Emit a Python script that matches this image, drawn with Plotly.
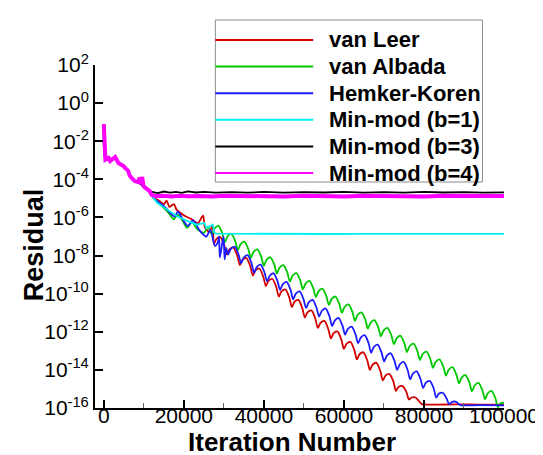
import plotly.graph_objects as go

# ---- data: iteration number and log10(residual) ----
# start-up transient shared by the five solver runs
early_it = [0, 400, 1200, 1600, 2100, 2850, 3650, 4900, 6100, 6500, 7700, 8950, 10400, 11400]
early_lg = [-1.10, -2.97, -2.88, -3.04, -2.95, -2.83, -3.14, -3.30, -3.56, -3.82, -4.09, -4.19, -4.45, -4.61]

red_it = [12500, 14000, 15000, 15700, 16400, 17500, 18200, 19100, 20500, 22000, 23500, 24800, 25300, 26400, 27200,
          27500, 28150, 29125, 30100, 30750, 31400, 32375, 33350, 34000, 34650, 35625, 36600,
          37250, 37900, 38875, 39850, 40500, 41150, 42125, 43100, 43750, 44400, 45375, 46350,
          47000, 47650, 48625, 49600, 50250, 50900, 51875, 52850, 53500, 54150, 55125, 56100,
          56750, 57400, 58375, 59350, 60000, 60650, 61625, 62600, 63250, 63900, 64875, 65850,
          66500, 67150, 68125, 69100, 69750, 70400, 71375, 72350, 73000, 73650, 74625, 75600,
          76250, 76900, 77875, 78800, 79500, 83000, 88000, 94000, 100000]
red_lg = [-4.95, -5.15, -5.30, -5.12, -5.45, -5.30, -5.60, -5.75, -5.95, -6.10, -6.30, -5.90, -6.55, -6.75, -6.41,
          -7.40, -7.13, -7.03, -7.46, -7.95, -7.68, -7.58, -8.01, -8.50, -8.23, -8.13, -8.56,
          -9.05, -8.78, -8.68, -9.11, -9.60, -9.33, -9.23, -9.66, -10.15, -9.88, -9.78, -10.21,
          -10.70, -10.43, -10.33, -10.76, -11.25, -10.98, -10.88, -11.31, -11.80, -11.53, -11.43, -11.86,
          -12.35, -12.08, -11.98, -12.41, -12.90, -12.63, -12.53, -12.96, -13.45, -13.18, -13.08, -13.51,
          -14.00, -13.73, -13.63, -14.06, -14.55, -14.30, -14.22, -14.60, -15.10, -14.90, -14.85, -15.15,
          -15.55, -15.45, -15.45, -15.65, -15.80, -15.82, -15.81, -15.82, -15.82]

green_it = [12500, 14000, 15500, 16700, 17500, 18500, 20000, 20800, 22000, 23500, 25000, 26000,
            27000, 27650, 28625, 29600, 30250, 30900, 31875, 32850, 33500, 34150, 35125, 36100,
            36750, 37400, 38375, 39350, 40000, 40650, 41625, 42600, 43250, 43900, 44875, 45850,
            46500, 47150, 48125, 49100, 49750, 50400, 51375, 52350, 53000, 53650, 54625, 55600,
            56250, 56900, 57875, 58850, 59500, 60150, 61125, 62100, 62750, 63400, 64375, 65350,
            66000, 66650, 67625, 68600, 69250, 69900, 70875, 71850, 72500, 73150, 74125, 75100,
            75750, 76400, 77375, 78350, 79000, 79650, 80625, 81600, 82250, 82900, 83875, 84850,
            85500, 86150, 87125, 88100, 88750, 89400, 90375, 91350, 92000, 92650, 93625, 94600,
            95250, 95900, 96875, 97850, 98500, 99150, 100000]
green_lg = [-5.00, -5.30, -5.60, -5.90, -6.10, -5.85, -6.30, -6.55, -6.25, -6.65, -6.80, -6.50,
            -6.88, -6.58, -6.44, -6.83, -7.30, -7.00, -6.86, -7.25, -7.71, -7.41, -7.27, -7.66,
            -8.12, -7.82, -7.68, -8.07, -8.53, -8.23, -8.09, -8.48, -8.94, -8.64, -8.50, -8.89,
            -9.36, -9.06, -8.92, -9.31, -9.77, -9.47, -9.33, -9.72, -10.18, -9.88, -9.74, -10.13,
            -10.59, -10.29, -10.15, -10.54, -11.00, -10.70, -10.56, -10.95, -11.42, -11.12, -10.98, -11.37,
            -11.83, -11.53, -11.39, -11.78, -12.24, -11.94, -11.80, -12.19, -12.65, -12.35, -12.21, -12.60,
            -13.06, -12.76, -12.62, -13.01, -13.48, -13.18, -13.04, -13.43, -13.89, -13.59, -13.45, -13.84,
            -14.30, -14.00, -13.86, -14.25, -14.71, -14.41, -14.27, -14.66, -15.12, -14.82, -14.68, -15.07,
            -15.54, -15.24, -15.10, -15.49, -15.95, -15.75, -15.72]

blue_it = [12500, 14000, 15500, 16500, 17700, 18500, 20000, 21000, 22300, 24000, 25600, 26600,
           27800, 28500, 28800, 29000, 29900, 30200, 30600,
           31050, 31700, 32675, 33650, 34300, 34950, 35925, 36900, 37550, 38200, 39175, 40150,
           40800, 41450, 42425, 43400, 44050, 44700, 45675, 46650, 47300, 47950, 48925, 49900,
           50550, 51200, 52175, 53150, 53800, 54450, 55425, 56400, 57050, 57700, 58675, 59650,
           60300, 60950, 61925, 62900, 63550, 64200, 65175, 66150, 66800, 67450, 68425, 69400,
           70050, 70700, 71675, 72650, 73300, 73950, 74925, 75900, 76550, 77200, 78175, 79150,
           79800, 80450, 81425, 82400, 83050, 83700, 84675, 85650, 86300, 87000, 87900, 88900,
           89500, 94000, 100000]
blue_lg = [-5.00, -5.25, -5.50, -5.75, -5.95, -5.70, -6.20, -6.45, -6.15, -6.70, -7.00, -6.65,
           -7.50, -7.30, -7.00, -8.10, -7.00, -8.20, -7.60,
           -7.95, -7.66, -7.53, -7.94, -8.40, -8.11, -7.98, -8.39, -8.90, -8.61, -8.48, -8.89,
           -9.35, -9.06, -8.93, -9.34, -9.80, -9.51, -9.38, -9.79, -10.30, -10.01, -9.88, -10.29,
           -10.75, -10.46, -10.33, -10.74, -11.20, -10.91, -10.78, -11.19, -11.70, -11.41, -11.28, -11.69,
           -12.15, -11.86, -11.73, -12.14, -12.60, -12.31, -12.18, -12.59, -13.10, -12.81, -12.68, -13.09,
           -13.55, -13.26, -13.13, -13.54, -14.00, -13.71, -13.58, -13.99, -14.50, -14.21, -14.08, -14.49,
           -14.95, -14.68, -14.58, -14.95, -15.45, -15.25, -15.20, -15.50, -15.80, -15.68, -15.67, -15.82,
           -15.86, -15.85, -15.86]

cyan_it = [12500, 13400, 15850, 18300, 20700, 23200, 25100, 25600, 27200, 27600, 28000,
           35000, 45000, 55000, 65000, 75000, 85000, 100000]
cyan_lg = [-5.00, -5.24, -5.59, -5.94, -6.17, -6.38, -6.29, -6.55, -6.38, -6.80, -6.85,
           -6.86, -6.85, -6.87, -6.86, -6.85, -6.87, -6.86]

black_it = [12000, 13500, 15000, 16500, 18000, 19500, 21000, 23000, 25000, 28000, 32000, 36000, 40000,
            45000, 50000, 55000, 60000, 65000, 70000, 75000, 80000, 85000, 90000, 95000, 100000]
black_lg = [-4.66, -4.72, -4.64, -4.70, -4.66, -4.71, -4.63, -4.69, -4.66, -4.70, -4.67, -4.70, -4.66,
            -4.70, -4.67, -4.69, -4.66, -4.70, -4.67, -4.70, -4.66, -4.69, -4.67, -4.70, -4.68]

magenta_it = [0, 400, 1200, 1600, 2100, 2850, 3650, 4900, 6100, 6500, 7700, 8700, 8950, 9200, 9600, 9900,
              10400, 11400, 12000, 13000, 15000, 17000, 19000, 21000, 24000, 27000, 30000, 35000, 40000,
              45000, 50000, 55000, 60000, 65000, 70000, 75000, 80000, 85000, 90000, 95000, 100000]
magenta_lg = [-1.10, -2.97, -2.88, -3.04, -2.95, -2.83, -3.14, -3.30, -3.56, -3.82, -4.09, -4.15, -3.90, -4.25, -3.88, -4.35,
              -4.45, -4.61, -4.82, -4.88, -4.86, -4.90, -4.86, -4.89, -4.87, -4.90, -4.86, -4.89, -4.87,
              -4.90, -4.86, -4.88, -4.90, -4.86, -4.89, -4.87, -4.90, -4.86, -4.88, -4.89, -4.87]

names = ['van Leer', 'van Albada', 'Hemker-Koren', 'Min-mod (b=1)', 'Min-mod (b=3)', 'Min-mod (b=4)']
colors = ['#d40000', '#00c800', '#1c1cff', '#00f0f0', '#000000', '#ff00ff']

x_tickvals = [0, 20000, 40000, 60000, 80000, 100000]
x_ticktext = ['0', '20000', '40000', '60000', '80000', '100000']
y_tickvals = [1e2, 1e0, 1e-2, 1e-4, 1e-6, 1e-8, 1e-10, 1e-12, 1e-14, 1e-16]
y_ticktext = ['10<sup>2</sup>', '10<sup>0</sup>', '10<sup>-2</sup>', '10<sup>-4</sup>', '10<sup>-6</sup>',
              '10<sup>-8</sup>', '10<sup>-10</sup>', '10<sup>-12</sup>', '10<sup>-14</sup>', '10<sup>-16</sup>']

series = [
    (early_it + red_it, early_lg + red_lg),
    (early_it + green_it, early_lg + green_lg),
    (early_it + blue_it, early_lg + blue_lg),
    (early_it + cyan_it, early_lg + cyan_lg),
    (early_it + black_it, early_lg + black_lg),
    (magenta_it, magenta_lg),
]

FONT = 'Liberation Sans, Arial, sans-serif'

fig = go.Figure()
for k, ((xs, lg), name, col) in enumerate(zip(series, names, colors)):
    # the three converging limiters oscillate in rounded arches -> smooth them
    shape = 'spline' if k < 3 else 'linear'
    fig.add_trace(go.Scatter(
        x=xs, y=[10 ** v for v in lg], mode='lines', name=name,
        line=dict(color=col, width=4 if k == 5 else 1.8, shape=shape, smoothing=0.8),
        showlegend=False,
    ))

# plot area in pixels: x 87..505, y 57..400
W, H = 543, 455
L, R, T, B = 87, 38, 57, 55
pw, ph = W - L - R, H - T - B


def px(x):
    return (x - L) / pw


def py(y):
    return (H - B - y) / ph


# hand drawn legend box (long line samples like the original)
shapes = [dict(type='rect', xref='paper', yref='paper', x0=px(210), x1=px(483), y0=py(174), y1=py(12),
               line=dict(color='#8c8c8c', width=1), fillcolor='white', layer='above')]
annotations = []
for i, (name, col) in enumerate(zip(names, colors)):
    yy = 32 + 26.6 * i
    shapes.append(dict(type='line', xref='paper', yref='paper', x0=px(210), x1=px(310), y0=py(yy), y1=py(yy),
                       line=dict(color=col, width=2), layer='above'))
    annotations.append(dict(xref='paper', yref='paper', x=px(324), y=py(yy), text=name, showarrow=False,
                            xanchor='left', yanchor='middle',
                            font=dict(family=FONT, size=22, color='black', weight='bold')))

annotations.append(dict(xref='paper', yref='paper', x=px(25), y=py(237), text='Residual', textangle=-90,
                        showarrow=False, xanchor='center', yanchor='middle',
                        font=dict(family=FONT, size=27, color='black', weight='bold')))
annotations.append(dict(xref='paper', yref='paper', x=px(288), y=py(434), text='Iteration Number',
                        showarrow=False, xanchor='center', yanchor='middle',
                        font=dict(family=FONT, size=26, color='black', weight='bold')))

fig.update_layout(
    width=W, height=H,
    margin=dict(l=L, r=R, t=T, b=B),
    plot_bgcolor='white', paper_bgcolor='white',
    font=dict(family=FONT, size=21, color='black'),
    shapes=shapes, annotations=annotations,
    xaxis=dict(
        range=[-2200, 100000], showgrid=False, zeroline=False,
        showline=True, linecolor='black', linewidth=2,
        ticks='inside', ticklen=8, tickwidth=2, tickcolor='black',
        tickmode='array', tickvals=x_tickvals, ticktext=x_ticktext,
        tickfont=dict(size=21), ticklabelstandoff=-12,
        minor=dict(ticks='inside', ticklen=5, tickwidth=1, tickcolor='#666', dtick=10000, tick0=0),
    ),
    yaxis=dict(
        type='log', range=[-16, 2], showgrid=False, zeroline=False,
        showline=True, linecolor='black', linewidth=2,
        ticks='inside', ticklen=8, tickwidth=2, tickcolor='black',
        tickmode='array', tickvals=y_tickvals, ticktext=y_ticktext,
        tickfont=dict(size=21),
    ),
)

fig.write_html('out.html')
